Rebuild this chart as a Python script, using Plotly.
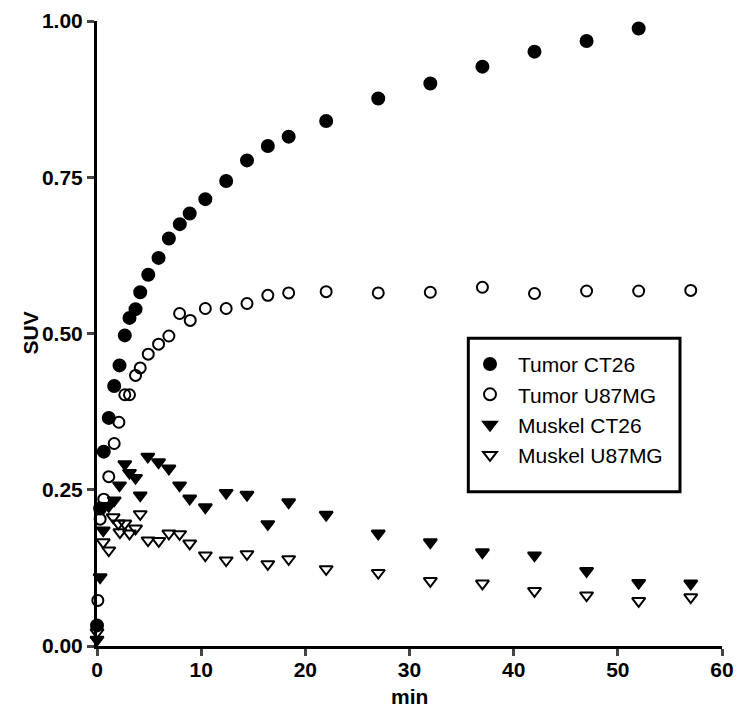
import plotly.graph_objects as go

# ---- data ----
tumor_ct26_t = [0.0, 0.3, 0.65, 1.13, 1.65, 2.16, 2.67, 3.12, 3.70, 4.15, 4.92, 5.91, 6.9, 7.95, 8.9,
                10.4, 12.4, 14.4, 16.4, 18.4, 22, 27, 32, 37, 42, 47, 52]
tumor_ct26_suv = [0.033, 0.22, 0.311, 0.365, 0.416, 0.449, 0.497, 0.525, 0.539, 0.566, 0.594, 0.621, 0.652,
                  0.675, 0.692, 0.715, 0.744, 0.777, 0.800, 0.815, 0.840, 0.876, 0.900, 0.927, 0.951, 0.968, 0.988]

tumor_u87_t = [0.08, 0.3, 0.65, 1.13, 1.65, 2.1, 2.67, 3.12, 3.70, 4.15, 4.92, 5.91, 6.9, 7.93, 8.95,
               10.4, 12.4, 14.4, 16.4, 18.4, 22, 27, 32, 37, 42, 47, 52, 57]
tumor_u87_suv = [0.073, 0.203, 0.235, 0.271, 0.324, 0.358, 0.402, 0.402, 0.433, 0.445, 0.467, 0.483, 0.496,
                 0.532, 0.521, 0.540, 0.540, 0.548, 0.561, 0.565, 0.567, 0.565, 0.566, 0.574, 0.564, 0.568,
                 0.568, 0.569]

muskel_ct26_t = [0.0, 0.3, 0.6, 1.13, 1.65, 2.16, 2.67, 3.12, 3.70, 4.15, 4.88, 5.91, 6.9, 7.93, 8.9,
                 10.4, 12.4, 14.4, 16.4, 18.4, 22, 27, 32, 37, 42, 47, 52, 57]
muskel_ct26_suv = [0.01, 0.11, 0.185, 0.224, 0.233, 0.257, 0.291, 0.277, 0.269, 0.241, 0.303, 0.294, 0.284,
                   0.257, 0.236, 0.222, 0.245, 0.242, 0.195, 0.230, 0.210, 0.180, 0.166, 0.150, 0.145, 0.120,
                   0.101, 0.100]

muskel_u87_t = [0.0, 0.6, 1.13, 1.55, 2.05, 2.2, 2.67, 3.12, 3.70, 4.15, 4.9, 5.93, 6.9, 7.93, 8.9,
                10.4, 12.4, 14.4, 16.4, 18.4, 22, 27, 32, 37, 42, 47, 52, 57]
muskel_u87_suv = [0.022, 0.166, 0.153, 0.206, 0.196, 0.182, 0.196, 0.180, 0.188, 0.211, 0.169, 0.168, 0.180,
                  0.179, 0.164, 0.145, 0.137, 0.147, 0.131, 0.139, 0.123, 0.117, 0.104, 0.100, 0.088, 0.081,
                  0.072, 0.078]

x_ticks = [0, 10, 20, 30, 40, 50, 60]
x_labels = ["0", "10", "20", "30", "40", "50", "60"]
y_ticks = [0.0, 0.25, 0.5, 0.75, 1.0]
y_labels = ["0.00", "0.25", "0.50", "0.75", "1.00"]

FONT = "Arial, Liberation Sans, sans-serif"

fig = go.Figure()
series = [
    ("Tumor CT26", tumor_ct26_t, tumor_ct26_suv, "circle", 12),
    ("Tumor U87MG", tumor_u87_t, tumor_u87_suv, "circle-open", 11),
    ("Muskel CT26", muskel_ct26_t, muskel_ct26_suv, "triangle-down", 11.5),
    ("Muskel U87MG", muskel_u87_t, muskel_u87_suv, "triangle-down-open", 11.5),
]
for name, xs, ys, sym, size in series:
    fig.add_trace(go.Scatter(
        x=xs, y=ys, mode="markers", name=name, cliponaxis=False,
        marker=dict(symbol=sym, size=size, color="black", line=dict(width=2, color="black")),
    ))

fig.update_layout(
    width=737, height=711,
    margin=dict(l=97, r=15, t=21, b=65, autoexpand=False),
    paper_bgcolor="white", plot_bgcolor="white",
    font=dict(family=FONT, color="black"),
    legend=dict(
        x=0.584, y=0.4834, xanchor="left", yanchor="top",
        bgcolor="rgba(0,0,0,0)", borderwidth=0,
        font=dict(family=FONT, size=21, color="black"),
        itemsizing="constant", itemwidth=46,
    ),
    shapes=[dict(type="rect", xref="paper", yref="paper",
                 x0=0.5941, x1=0.9328, y0=0.2469, y1=0.4923,
                 line=dict(color="black", width=3))],
    annotations=[
        dict(text="<b>SUV</b>", xref="paper", yref="paper", x=0, y=0.5, xshift=-67,
             xanchor="center", yanchor="middle", textangle=-90, showarrow=False,
             font=dict(family=FONT, size=21, color="black")),
        dict(text="<b>min</b>", xref="paper", yref="paper", x=0.5, y=0, yshift=-50,
             xanchor="center", yanchor="middle", showarrow=False,
             font=dict(family=FONT, size=21, color="black")),
    ],
)
fig.update_xaxes(
    range=[0, 60], tickvals=x_ticks, ticktext=["<b>%s</b>" % t for t in x_labels],
    ticks="outside", ticklen=7, tickwidth=3, ticklabelstandoff=-4, automargin=False,
    showline=True, linewidth=3, linecolor="black", showgrid=False, zeroline=False,
    layer="below traces",
    tickfont=dict(family=FONT, size=21),
)
fig.update_yaxes(
    range=[0, 1], tickvals=y_ticks, ticktext=["<b>%s</b>" % t for t in y_labels],
    ticks="outside", ticklen=7, tickwidth=3, automargin=False,
    showline=True, linewidth=3, linecolor="black", showgrid=False, zeroline=False,
    layer="below traces",
    tickfont=dict(family=FONT, size=21),
)

fig.write_html("out.html")
